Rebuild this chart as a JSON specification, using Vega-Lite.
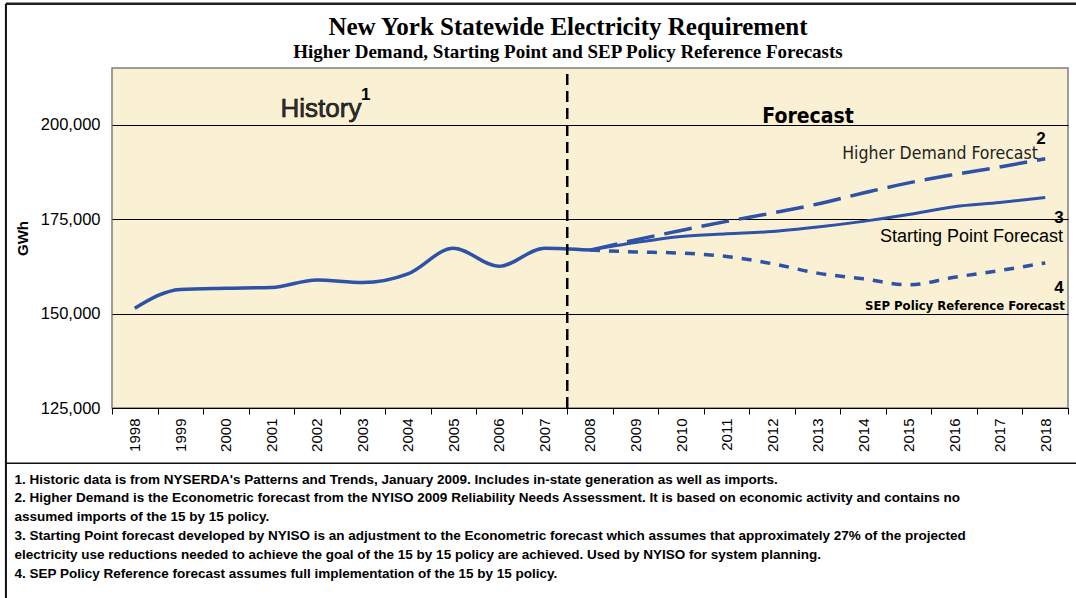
{
  "$schema": "https://vega.github.io/schema/vega-lite/v6.json",
  "width": 956,
  "height": 340,
  "autosize": {"type": "none"},
  "padding": {"left": 112, "top": 68, "right": 8, "bottom": 190},
  "background": "white",
  "config": {
    "view": {"fill": "#FAF0D3", "stroke": "#7f7f7f", "strokeWidth": 1.5},
    "font": "Liberation Sans"
  },
  "title": {
    "text": "New York Statewide Electricity Requirement",
    "subtitle": "Higher Demand, Starting Point and SEP Policy Reference Forecasts",
    "font": "Liberation Serif",
    "fontSize": 25,
    "fontWeight": "bold",
    "color": "black",
    "subtitleFont": "Liberation Serif",
    "subtitleFontSize": 19,
    "subtitleFontWeight": "bold",
    "subtitleColor": "black",
    "anchor": "middle",
    "frame": "group",
    "dx": -22,
    "offset": -59,
    "subtitlePadding": 3
  },
  "datasets": {
    "energy": [
      {"year": 1998, "gwh": 151400, "series": "History"},
      {"year": 1999, "gwh": 156400, "series": "History"},
      {"year": 2000, "gwh": 156700, "series": "History"},
      {"year": 2001, "gwh": 156900, "series": "History"},
      {"year": 2002, "gwh": 158900, "series": "History"},
      {"year": 2003, "gwh": 158200, "series": "History"},
      {"year": 2004, "gwh": 160500, "series": "History"},
      {"year": 2005, "gwh": 167300, "series": "History"},
      {"year": 2006, "gwh": 162500, "series": "History"},
      {"year": 2007, "gwh": 167300, "series": "History"},
      {"year": 2008, "gwh": 166800, "series": "History"},
      {"year": 2008, "gwh": 166800, "series": "Starting Point"},
      {"year": 2009, "gwh": 168800, "series": "Starting Point"},
      {"year": 2010, "gwh": 170400, "series": "Starting Point"},
      {"year": 2011, "gwh": 171100, "series": "Starting Point"},
      {"year": 2012, "gwh": 171700, "series": "Starting Point"},
      {"year": 2013, "gwh": 172900, "series": "Starting Point"},
      {"year": 2014, "gwh": 174400, "series": "Starting Point"},
      {"year": 2015, "gwh": 176200, "series": "Starting Point"},
      {"year": 2016, "gwh": 178300, "series": "Starting Point"},
      {"year": 2017, "gwh": 179400, "series": "Starting Point"},
      {"year": 2018, "gwh": 180700, "series": "Starting Point"},
      {"year": 2008, "gwh": 166800, "series": "Higher Demand"},
      {"year": 2009, "gwh": 169500, "series": "Higher Demand"},
      {"year": 2010, "gwh": 172000, "series": "Higher Demand"},
      {"year": 2011, "gwh": 174400, "series": "Higher Demand"},
      {"year": 2012, "gwh": 176600, "series": "Higher Demand"},
      {"year": 2013, "gwh": 179000, "series": "Higher Demand"},
      {"year": 2014, "gwh": 181900, "series": "Higher Demand"},
      {"year": 2015, "gwh": 184600, "series": "Higher Demand"},
      {"year": 2016, "gwh": 186800, "series": "Higher Demand"},
      {"year": 2017, "gwh": 188800, "series": "Higher Demand"},
      {"year": 2018, "gwh": 191000, "series": "Higher Demand"},
      {"year": 2008, "gwh": 166800, "series": "SEP Policy Reference"},
      {"year": 2009, "gwh": 166300, "series": "SEP Policy Reference"},
      {"year": 2010, "gwh": 166000, "series": "SEP Policy Reference"},
      {"year": 2011, "gwh": 165100, "series": "SEP Policy Reference"},
      {"year": 2012, "gwh": 163200, "series": "SEP Policy Reference"},
      {"year": 2013, "gwh": 160700, "series": "SEP Policy Reference"},
      {"year": 2014, "gwh": 159200, "series": "SEP Policy Reference"},
      {"year": 2015, "gwh": 157600, "series": "SEP Policy Reference"},
      {"year": 2016, "gwh": 159600, "series": "SEP Policy Reference"},
      {"year": 2017, "gwh": 161400, "series": "SEP Policy Reference"},
      {"year": 2018, "gwh": 163400, "series": "SEP Policy Reference"}
    ]
  },
  "data": {"name": "energy"},
  "encoding": {
    "x": {
      "field": "year",
      "type": "quantitative",
      "scale": {"domain": [1997.5, 2018.5], "nice": false, "zero": false},
      "axis": {
        "values": [1997.5, 1998.5, 1999.5, 2000.5, 2001.5, 2002.5, 2003.5, 2004.5, 2005.5, 2006.5, 2007.5, 2008.5, 2009.5, 2010.5, 2011.5, 2012.5, 2013.5, 2014.5, 2015.5, 2016.5, 2017.5, 2018.5],
        "labelExpr": "datum.value < 2018 ? format(datum.value + 0.5, 'd') : ''",
        "labelOffset": 22.76,
        "labelAngle": -90,
        "labelFont": "Liberation Sans",
        "labelFontSize": 15,
        "labelColor": "black",
        "labelPadding": 4,
        "labelOverlap": false,
        "labelFlush": false,
        "tickColor": "black",
        "tickSize": 6,
        "domainColor": "black",
        "domainWidth": 1,
        "grid": false,
        "title": [
          "1.  Historic data is from NYSERDA's Patterns and Trends, January 2009. Includes in-state generation as well as imports.",
          "2.  Higher Demand  is the Econometric forecast from the NYISO 2009 Reliability Needs Assessment. It is based on economic activity and contains no",
          "assumed imports of the 15 by 15 policy.",
          "3. Starting Point forecast developed by NYISO is an adjustment to the Econometric forecast which assumes that approximately 27% of the projected",
          "electricity use reductions needed to achieve the goal of the 15 by 15 policy are achieved.  Used by NYISO for system planning.",
          "4. SEP Policy Reference forecast assumes full implementation of the 15 by 15 policy."
        ],
        "titleAnchor": "start",
        "titleAlign": "left",
        "titleBaseline": "top",
        "titleX": -98,
        "titleY": 64,
        "titleFont": "Liberation Sans",
        "titleFontSize": 13.5,
        "titleFontWeight": "bold",
        "titleColor": "black",
        "titleLineHeight": 18.8
      }
    },
    "y": {
      "field": "gwh",
      "type": "quantitative",
      "scale": {"domain": [125000, 215000], "nice": false, "zero": false},
      "axis": {
        "values": [125000, 150000, 175000, 200000],
        "format": ",d",
        "labelFont": "Liberation Sans",
        "labelFontSize": 16.5,
        "labelColor": "black",
        "labelPadding": 12,
        "ticks": false,
        "domain": false,
        "grid": true,
        "gridColor": "black",
        "gridWidth": 1,
        "gridOpacity": 1,
        "title": "GWh",
        "titleFont": "Liberation Sans",
        "titleFontSize": 15,
        "titleFontWeight": "bold",
        "titleColor": "black",
        "titlePadding": 10
      }
    }
  },
  "layer": [
    {
      "transform": [{"filter": "datum.series === 'History'"}],
      "mark": {"type": "line", "color": "#2E52A8", "strokeWidth": 3.5, "interpolate": "monotone"}
    },
    {
      "transform": [{"filter": "datum.series === 'Starting Point'"}],
      "mark": {"type": "line", "color": "#2E52A8", "strokeWidth": 3, "interpolate": "monotone"}
    },
    {
      "transform": [{"filter": "datum.series === 'Higher Demand'"}],
      "mark": {"type": "line", "color": "#2E52A8", "strokeWidth": 3.5, "strokeDash": [28, 10], "interpolate": "monotone"}
    },
    {
      "transform": [{"filter": "datum.series === 'SEP Policy Reference'"}],
      "mark": {"type": "line", "color": "#2E52A8", "strokeWidth": 3.5, "strokeDash": [10, 9], "interpolate": "monotone"}
    },
    {
      "data": {"values": [{"year": 2007.5, "gwh": 125000, "gwh2": 214000}]},
      "mark": {"type": "rule", "color": "black", "strokeWidth": 2.5, "strokeDash": [11, 6]},
      "encoding": {"y2": {"field": "gwh2"}}
    },
    {
      "data": {"values": [{"year": 1995.17, "year2": 2019, "gwh": 232000}]},
      "mark": {"type": "rule", "color": "#222", "strokeWidth": 2.5},
      "encoding": {"x2": {"field": "year2"}}
    },
    {
      "data": {"values": [{"year": 1995.17, "year2": 2019, "gwh": 110400}]},
      "mark": {"type": "rule", "color": "#111", "strokeWidth": 1.5},
      "encoding": {"x2": {"field": "year2"}}
    },
    {
      "data": {"values": [{"year": 1995.17, "gwh": 232000, "gwh2": 60000}]},
      "mark": {"type": "rule", "color": "#111", "strokeWidth": 2},
      "encoding": {"y2": {"field": "gwh2"}}
    },
    {
      "data": {"values": [{"label": "History", "year": 2002.09, "gwh": 202030}]},
      "mark": {"type": "text", "font": "Liberation Sans", "fontSize": 26, "color": "#333", "stroke": "black", "strokeWidth": 0.6, "align": "center", "baseline": "alphabetic"},
      "encoding": {"text": {"field": "label"}}
    },
    {
      "data": {"values": [{"label": "1", "year": 2002.97, "gwh": 206530}, {"label": "2", "year": 2017.8, "gwh": 195000}, {"label": "3", "year": 2018.2, "gwh": 174000}, {"label": "4", "year": 2018.2, "gwh": 155440}]},
      "mark": {"type": "text", "font": "Liberation Sans", "fontSize": 17, "fontWeight": "bold", "color": "black", "align": "left", "baseline": "alphabetic"},
      "encoding": {"text": {"field": "label"}}
    },
    {
      "data": {"values": [{"label": "Forecast", "year": 2012.79, "gwh": 200520}]},
      "mark": {"type": "text", "font": "DejaVu Sans Condensed", "fontSize": 21, "fontWeight": "bold", "color": "black", "align": "center", "baseline": "alphabetic"},
      "encoding": {"text": {"field": "label"}}
    },
    {
      "data": {"values": [{"label": "Higher Demand Forecast", "year": 2015.69, "gwh": 190910}]},
      "mark": {"type": "text", "font": "DejaVu Sans Condensed", "fontSize": 17.5, "color": "#222", "align": "center", "baseline": "alphabetic"},
      "encoding": {"text": {"field": "label"}}
    },
    {
      "data": {"values": [{"label": "Starting Point Forecast", "year": 2018.39, "gwh": 169020}]},
      "mark": {"type": "text", "font": "Liberation Sans", "fontSize": 18, "color": "black", "align": "right", "baseline": "alphabetic"},
      "encoding": {"text": {"field": "label"}}
    },
    {
      "data": {"values": [{"label": "SEP Policy Reference Forecast", "year": 2018.43, "gwh": 150940}]},
      "mark": {"type": "text", "font": "DejaVu Sans Condensed", "fontSize": 13, "fontWeight": "bold", "color": "black", "align": "right", "baseline": "alphabetic"},
      "encoding": {"text": {"field": "label"}}
    }
  ]
}
